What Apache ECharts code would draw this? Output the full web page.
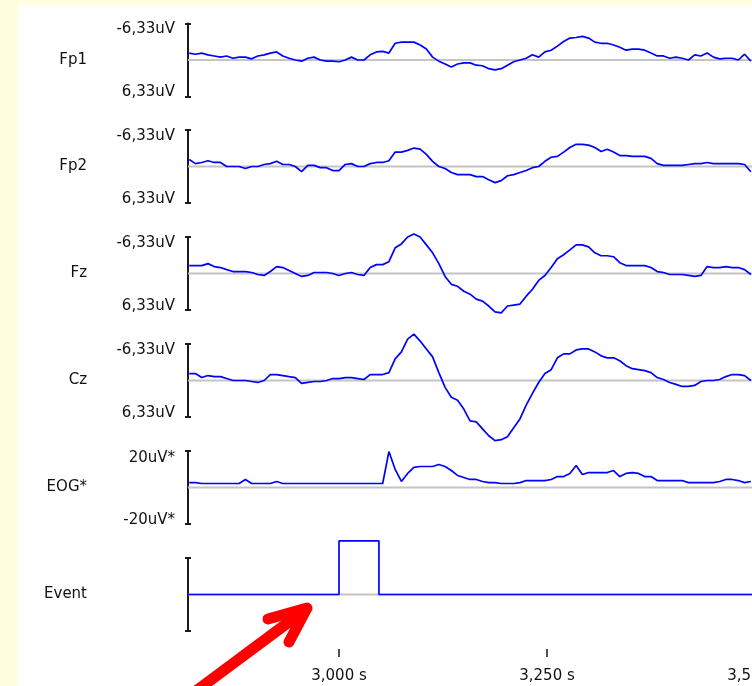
<!DOCTYPE html>
<html><head><meta charset="utf-8">
<script src="https://cdn.jsdelivr.net/npm/echarts@6/dist/echarts.min.js"></script>
<style>html,body{margin:0;padding:0;background:#ffffdd}#c{width:752px;height:686px}</style>
</head><body><div id="c"></div>
<script>
// sampling grid of the recording (seconds)
const t0 = 2.82, dt = 0.0075;
const channelNames = ['Fp1', 'Fp2', 'Fz', 'Cz', 'EOG*', 'Event'];

// values in uV
const fp1 = [-1.2,-1.0,-1.2,-0.9,-0.7,-0.5,-0.7,-0.3,-0.5,-0.5,
  -0.2,-0.7,-0.9,-1.2,-1.4,-0.7,-0.3,0,0.2,-0.3,
  -0.5,0,0.2,0.2,0.3,0,-0.5,0,0,-0.9,
  -1.4,-1.5,-1.2,-2.9,-3.1,-3.1,-3.1,-2.6,-1.9,-0.5,
  0.2,0.7,1.2,0.7,0.5,0.5,0.9,1.0,1.5,1.7,
  1.5,0.9,0.3,0,-0.3,-0.9,-0.5,-1.4,-1.7,-2.4,
  -3.2,-3.8,-3.9,-4.1,-3.8,-3.1,-2.9,-2.9,-2.6,-2.2,
  -1.7,-1.9,-1.9,-1.7,-1.2,-0.7,-0.7,-0.3,-0.5,-0.3,
  0,-0.9,-0.7,-1.2,-0.5,-0.2,-0.3,-0.3,0,-1.0,
  0.2];
const fp2 = [-1.2,-0.5,-0.7,-1.0,-0.7,-0.7,0,0,0,0.35,
  0,0,-0.35,-0.5,-0.9,-0.35,-0.35,0,0.9,-0.2,
  -0.2,0.2,0.2,0.7,0.7,-0.35,-0.5,0,0,-0.5,
  -0.7,-0.7,-1.0,-2.5,-2.5,-2.8,-3.2,-3.0,-2.1,-0.9,
  0,0.35,1.05,1.4,1.4,1.4,1.75,1.75,2.3,2.8,
  2.45,1.6,1.4,1.05,0.7,0.2,0,-0.9,-1.6,-1.75,
  -2.5,-3.3,-3.85,-3.85,-3.7,-3.3,-2.6,-3.0,-2.5,-1.9,
  -1.9,-1.75,-1.75,-1.75,-1.4,-0.5,-0.2,-0.2,-0.2,-0.2,
  -0.35,-0.5,-0.5,-0.7,-0.5,-0.5,-0.5,-0.5,-0.5,-0.35,
  0.9];
const fz = [-1.37,-1.37,-1.37,-1.71,-1.2,-1.03,-0.68,-0.34,-0.34,-0.34,
  -0.17,0.17,0.34,-0.34,-1.2,-1.03,-0.51,0,0.51,0.34,
  -0.17,-0.17,-0.17,0,0.34,0,-0.17,0.17,0.34,-1.03,
  -1.54,-1.54,-2.05,-4.45,-5.13,-6.33,-6.84,-6.33,-4.96,-3.59,
  -1.71,0.51,1.88,2.22,3.08,3.59,4.45,4.79,5.64,6.67,
  6.84,5.64,5.47,5.3,3.93,2.74,1.2,0.34,-1.03,-2.57,
  -3.25,-4.1,-4.96,-4.96,-4.62,-3.59,-3.08,-3.08,-2.91,-1.88,
  -1.37,-1.37,-1.37,-1.37,-1.03,-0.34,-0.17,0.17,0.17,0.17,
  0.34,0.51,0.34,-1.2,-1.03,-1.03,-1.2,-1.03,-1.03,-0.68,
  0.17];
const cz = [-1.2,-1.2,-0.51,-0.86,-0.68,-0.68,-0.34,0,0,0,
  0.17,0.34,0,-1.03,-1.03,-0.86,-0.68,-0.51,0.51,0.34,
  0.17,0.17,0,-0.34,-0.34,-0.51,-0.51,-0.34,-0.17,-1.03,
  -1.03,-1.03,-1.37,-3.76,-4.96,-7.18,-8.04,-6.84,-5.47,-4.1,
  -1.37,1.2,2.91,3.42,4.96,7.01,7.18,8.38,9.58,10.43,
  10.26,9.75,8.21,6.67,4.28,2.22,0.34,-1.2,-1.88,-3.93,
  -4.62,-4.62,-5.3,-5.47,-5.47,-4.96,-4.28,-3.93,-3.93,-3.42,
  -2.57,-2.05,-1.88,-1.71,-1.37,-0.51,-0.17,0.34,0.68,1.03,
  1.03,0.86,0.17,0,0,-0.17,-0.68,-1.03,-1.03,-0.86,
  0];
const eog = [2.7,2.7,2.2,2.2,2.2,2.2,2.2,2.2,2.2,4.4,
  2.2,2.2,2.2,2.2,3.3,2.2,2.2,2.2,2.2,2.2,
  2.2,2.2,2.2,2.2,2.2,2.2,2.2,2.2,2.2,2.2,
  2.2,2.2,19.7,9.9,3.3,7.7,11,11.5,11.5,11.5,
  12.6,11.5,9.3,6.6,5.5,4.4,4.4,3.3,2.7,2.7,
  2.2,2.2,2.2,2.7,3.8,3.8,3.8,3.8,4.4,6.0,
  6.0,7.7,12.1,7.1,8.2,8.2,8.2,8.2,9.3,6.0,
  7.7,8.2,7.7,6.0,6.0,3.8,3.8,3.8,3.8,3.8,
  2.7,2.7,2.7,2.7,2.7,3.3,4.4,4.4,3.8,2.7,
  3.3];
const eventTimes = [2.8185, 3.0, 3.0, 3.048, 3.048, 3.5];
const eventValues = [0, 0, 1, 1, 0, 0];

// tick labels
const eegTickLabels = ['-6,33uV', '6,33uV'];
const eogTickLabels = ['20uV*', '-20uV*'];
const xTickValues = [3.0, 3.25, 3.5];
const xTickLabels = ['3,000 s', '3,250 s', '3,500 s'];

// axis ranges
const eegRange = 6.33, eogRange = 20, eventRange = 0.68;
const xMin = 2.8185, xMax = 3.5;

const times = fp1.map((_, i) => t0 + dt * i);
const traces = [fp1, fp2, fz, cz, eog];

const FONT = 'DejaVu Sans';
const TXT = '#111';
const tops = [23.5, 130, 237, 344, 451, 558];
const grids = tops.map(t => ({ left: 188, width: 567, top: t, height: 73, outerBoundsMode: 'none', containLabel: false }));

const eegCfg = { min: -eegRange, max: eegRange, inverse: true, lab: [-eegRange + 1.0, eegRange - 0.7], fmt: v => v < 0 ? eegTickLabels[0] : eegTickLabels[1] };
const chCfg = [eegCfg, eegCfg, eegCfg, eegCfg,
  { min: -eogRange, max: eogRange, inverse: false, lab: [eogRange - 3.8, -eogRange + 2.2], fmt: v => v > 0 ? eogTickLabels[0] : eogTickLabels[1] },
  { min: -eventRange, max: eventRange, inverse: false, lab: null, fmt: null }
];

const yAxis = [];
const xAxis = [];
const series = [];
chCfg.forEach((c, i) => {
  yAxis.push({
    type: 'value', gridIndex: i, position: 'left', min: c.min, max: c.max, inverse: c.inverse,
    name: channelNames[i], nameLocation: 'middle', nameRotate: 0, nameGap: 101,
    nameTextStyle: { fontFamily: FONT, fontSize: 15, color: TXT, align: 'right', verticalAlign: 'middle' },
    axisLine: { show: true, onZero: false, lineStyle: { color: '#1a1a1a', width: 2 } },
    axisTick: { show: true, customValues: [c.min, c.max], length: 3, inside: false, lineStyle: { color: '#1a1a1a', width: 2 } },
    axisLabel: c.lab ? { show: true, customValues: c.lab, formatter: c.fmt, margin: 13, fontFamily: FONT, fontSize: 15, color: TXT } : { show: false },
    splitLine: { show: false }
  });
  yAxis.push({
    type: 'value', gridIndex: i, position: 'left', min: c.min, max: c.max, inverse: c.inverse,
    axisLine: { show: false, onZero: false },
    axisTick: { show: true, customValues: [c.min, c.max], length: 3, inside: true, lineStyle: { color: '#1a1a1a', width: 2 } },
    axisLabel: { show: false }, splitLine: { show: false }
  });
  const last = i === chCfg.length - 1;
  xAxis.push({
    type: 'value', gridIndex: i, min: xMin, max: xMax, show: last,
    position: 'bottom', offset: 26,
    axisLine: { show: false, onZero: false },
    axisTick: { show: true, customValues: xTickValues, inside: true, length: 8, lineStyle: { color: '#1a1a1a', width: 1.5 } },
    axisLabel: { show: true, customValues: xTickValues, margin: 12, fontFamily: FONT, fontSize: 15, color: TXT,
      formatter: v => xTickLabels[xTickValues.findIndex(x => Math.abs(x - v) < 1e-6)] },
    splitLine: { show: false }
  });
  // zero reference line
  series.push({
    type: 'line', xAxisIndex: i, yAxisIndex: 2 * i, data: [[xMin, 0], [xMax, 0]],
    showSymbol: false, symbol: 'none', silent: true, z: 1,
    lineStyle: { color: '#c4c4c4', width: 2 }
  });
  const data = last ? eventTimes.map((t, k) => [t, eventValues[k]]) : traces[i].map((v, k) => [times[k], v]);
  series.push({
    type: 'line', xAxisIndex: i, yAxisIndex: 2 * i, data,
    showSymbol: false, symbol: 'none', clip: false, z: 3, silent: true,
    lineStyle: { color: '#0000ff', width: 1.7 }
  });
});

const chart = echarts.init(document.getElementById('c'), null, { renderer: 'canvas' });
chart.setOption({
  animation: false,
  backgroundColor: '#ffffdd',
  grid: grids, xAxis, yAxis, series,
  graphic: [
    { type: 'rect', z: -100, shape: { x: 18, y: 5, width: 760, height: 700 }, style: { fill: '#ffffff' }, silent: true },
    { type: 'polyline', z: 100, shape: { points: [[192, 694], [305, 610]] },
      style: { stroke: '#ff0000', lineWidth: 11, lineCap: 'round', fill: null }, silent: true },
    { type: 'polyline', z: 100, shape: { points: [[268, 619], [307, 608], [289, 642]] },
      style: { stroke: '#ff0000', lineWidth: 11, lineCap: 'round', lineJoin: 'round', fill: null }, silent: true }
  ]
});
</script></body></html>
